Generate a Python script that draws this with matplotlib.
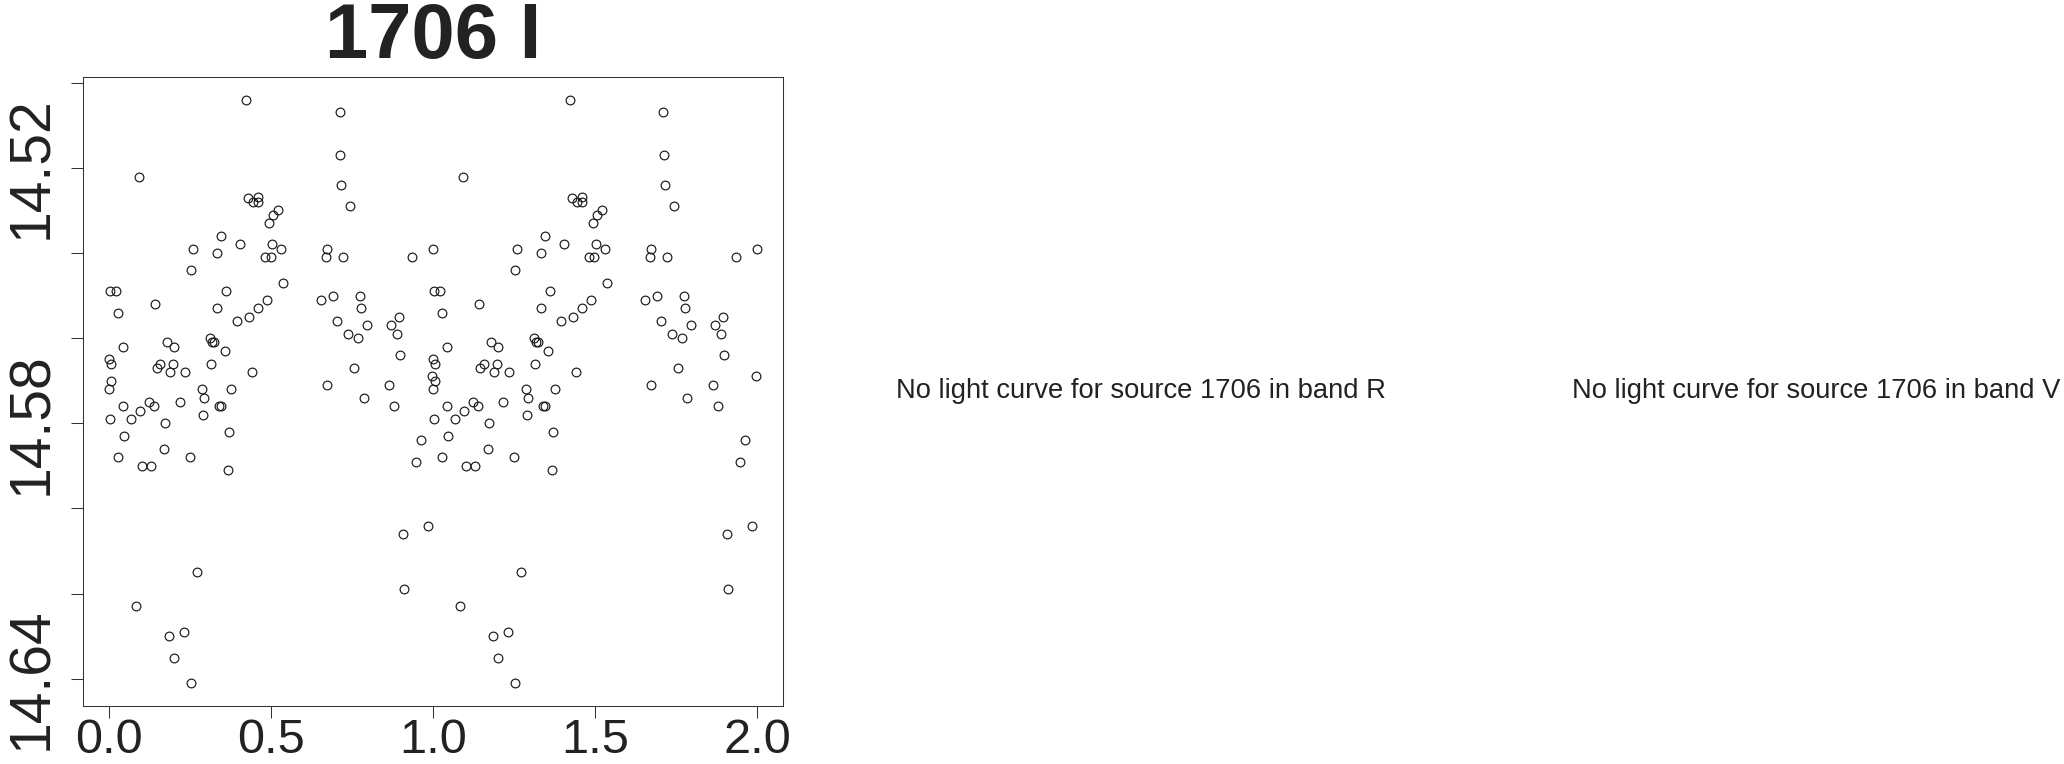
import numpy as np
import matplotlib
matplotlib.use("Agg")
import matplotlib.pyplot as plt

plt.rcParams['font.family'] = ['Liberation Sans', 'DejaVu Sans']

# ---- data (phase-folded light curve, band I) ----
phase = [0.421, 0.711, 0.713, 0.093, 0.715, 0.742, 0.429, 0.458, 0.443, 0.460,
         0.520, 0.505, 0.493, 0.345, 0.403, 0.503, 0.260, 0.530, 0.333, 0.481,
         0.498, 0.671, 0.669, 0.721, 0.935, 0.999, 0.253, 0.538, 0.002, 0.022,
         0.360, 0.654, 0.692, 0.773, 0.777, 0.487, 0.459, 0.433, 0.395, 0.333,
         0.142, 0.026, 0.702, 0.795, 0.737, 0.768, 0.871, 0.895, 0.889, 0.898,
         0.755, 0.671, 0.863, 0.785, 0.043, 0.177, 0.200, 0.311, 0.316, 0.325,
         0.356, 0.000, 0.005, 0.146, 0.156, 0.198, 0.189, 0.234, 0.314, 0.441,
         0.007, 0.000, 0.287, 0.376, 0.124, 0.217, 0.292, 0.997, 0.880, 0.044,
         0.137, 0.340, 0.344, 0.003, 0.066, 0.096, 0.172, 0.290, 0.369, 0.047,
         0.168, 0.027, 0.100, 0.129, 0.248, 0.366, 0.964, 0.946, 0.984, 0.907,
         0.910, 0.270, 0.082, 0.185, 0.231, 0.200, 0.252]
mag = [14.5041, 14.5070, 14.5171, 14.5221, 14.5240, 14.5290, 14.5270, 14.5269, 14.5280, 14.5281,
       14.5300, 14.5311, 14.5330, 14.5360, 14.5380, 14.5380, 14.5390, 14.5390, 14.5401, 14.5410,
       14.5410, 14.5390, 14.5410, 14.5410, 14.5410, 14.5390, 14.5441, 14.5470, 14.5490, 14.5490,
       14.5490, 14.5510, 14.5500, 14.5500, 14.5530, 14.5510, 14.5530, 14.5550, 14.5559, 14.5530,
       14.5520, 14.5540, 14.5559, 14.5570, 14.5590, 14.5600, 14.5570, 14.5550, 14.5590, 14.5640,
       14.5670, 14.5710, 14.5710, 14.5740, 14.5620, 14.5610, 14.5620, 14.5600, 14.5610, 14.5610,
       14.5630, 14.5649, 14.5660, 14.5670, 14.5660, 14.5660, 14.5680, 14.5680, 14.5660, 14.5680,
       14.5700, 14.5720, 14.5720, 14.5720, 14.5750, 14.5750, 14.5740, 14.5689, 14.5760, 14.5760,
       14.5760, 14.5760, 14.5760, 14.5790, 14.5790, 14.5770, 14.5800, 14.5780, 14.5820, 14.5830,
       14.5860, 14.5880, 14.5900, 14.5900, 14.5880, 14.5910, 14.5840, 14.5890, 14.6040, 14.6060,
       14.6190, 14.6149, 14.6230, 14.6300, 14.6290, 14.6350, 14.6409]

x_ticks = [0.0, 0.5, 1.0, 1.5, 2.0]
x_tick_labels = ["0.0", "0.5", "1.0", "1.5", "2.0"]
y_ticks = [14.50, 14.52, 14.54, 14.56, 14.58, 14.60, 14.62, 14.64]
y_tick_labels = ["", "14.52", "", "", "14.58", "", "", "14.64"]

title = "1706 I"
missing_texts = ["No light curve for source 1706 in band R",
                 "No light curve for source 1706 in band V"]

# ---- figure ----
W, H = 2064, 764
fig = plt.figure(figsize=(W / 100, H / 100), dpi=100)
fig.patch.set_facecolor("white")

L, R, T, B = 83.3, 782.7, 76.7, 706.0
ax = fig.add_axes([L / W, 1 - B / H, (R - L) / W, (B - T) / H])

ph = np.asarray(phase)
mg = np.asarray(mag)
xs = np.concatenate([ph, ph + 1.0])
ys = np.concatenate([mg, mg])

ax.plot(xs, ys, linestyle="none", marker="o", markersize=6.3,
        markerfacecolor="none", markeredgecolor="#1a1a1a", markeredgewidth=0.85)

# R-style 4% padding
xr = xs.max() - xs.min()
yr = ys.max() - ys.min()
ax.set_xlim(xs.min() - 0.04 * xr, xs.max() + 0.04 * xr)
ax.set_ylim(ys.max() + 0.04 * yr, ys.min() - 0.04 * yr)

ax.set_xticks(x_ticks)
ax.set_xticklabels(x_tick_labels)
ax.set_yticks(y_ticks)
ax.set_yticklabels(y_tick_labels, rotation=90, va="center")

txtc = "#222222"
ax.tick_params(axis="both", direction="out", length=8.5, width=0.75,
               colors="#333333", labelcolor=txtc)
ax.tick_params(axis="x", pad=0.0, labelsize=35)
ax.tick_params(axis="y", pad=9, labelsize=41)
for s in ax.spines.values():
    s.set_linewidth(0.75)
    s.set_color("#333333")

fig.text(433.5 / W, 1 - 58.3 / H, title, ha="center", va="baseline",
         fontsize=56, fontweight="bold", color=txtc)

fig.text(1140.5 / W, 1 - 398.3 / H, missing_texts[0], ha="center", va="baseline",
         fontsize=19.7, color=txtc)
fig.text(1816.0 / W, 1 - 398.3 / H, missing_texts[1], ha="center", va="baseline",
         fontsize=19.7, color=txtc)

fig.savefig("out.png", dpi=100, facecolor="white")
